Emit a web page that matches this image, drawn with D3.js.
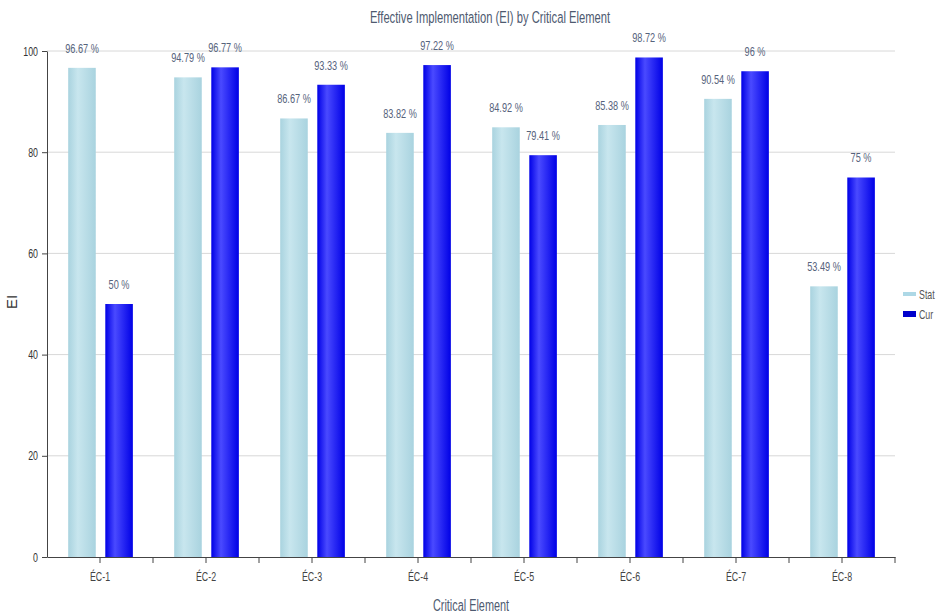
<!DOCTYPE html>
<html>
<head>
<meta charset="utf-8">
<script src="https://cdn.jsdelivr.net/npm/d3@7.9.0/dist/d3.min.js"></script>
<style>
  body { margin: 0; background: #fff; }
  text { font-family: "Liberation Sans", Arial, sans-serif; }
</style>
</head>
<body>
<svg id="chart" width="944" height="616"></svg>
<script>
const categories = ['ÉC-1', 'ÉC-2', 'ÉC-3', 'ÉC-4', 'ÉC-5', 'ÉC-6', 'ÉC-7', 'ÉC-8'];
const statValues = [96.67, 94.79, 86.67, 83.82, 84.92, 85.38, 90.54, 53.49];
const curValues = [50, 96.77, 93.33, 97.22, 79.41, 98.72, 96, 75];
const seriesNames = ['Stat', 'Cur'];
const yTicks = [0, 20, 40, 60, 80, 100];

const margin = { top: 51, right: 49, bottom: 59, left: 47 };
const width = 944 - margin.left - margin.right;
const height = 616 - margin.top - margin.bottom;
const squash = 0.68; // the original text is horizontally condensed

let svg = d3.select('#chart');

// squeeze text horizontally around its anchor point
function narrow(sel) {
    sel.each(function () {
        let t = d3.select(this);
        let x = +t.attr('x') || 0;
        t.attr('x', x / squash).attr('transform', `scale(${squash},1)`);
    });
}

// gradients for the bar shading
let defs = svg.append('defs');
function addGradient(id, edge, light) {
    let g = defs.append('linearGradient').attr('id', id).attr('x1', '0%').attr('x2', '100%');
    g.append('stop').attr('offset', '0%').attr('stop-color', edge);
    g.append('stop').attr('offset', '35%').attr('stop-color', light);
    g.append('stop').attr('offset', '100%').attr('stop-color', edge);
}
addGradient('gradStat', '#a9d3df', '#c8e6ee');
addGradient('gradCur', '#0000e6', '#4a4aff');
const fills = ['url(#gradStat)', 'url(#gradCur)'];
const legendColors = ['#add8e6', '#0000cc'];

let g = svg.append('g').attr('transform', `translate(${margin.left},${margin.top})`);

let x = d3.scaleBand().domain(categories).range([0, width]);
let y = d3.scaleLinear().domain([0, 100]).range([height, 0]);

// gridlines
g.selectAll('.grid')
    .data(yTicks.slice(1))
    .join('line')
    .attr('x1', 0)
    .attr('x2', width)
    .attr('y1', d => y(d))
    .attr('y2', d => y(d))
    .attr('stroke', '#d8d8d8')
    .attr('stroke-width', 1);

// bars
const series = [statValues, curValues];
const barW = x.bandwidth() * 0.26;
const offsets = [x.bandwidth() * 0.2, x.bandwidth() * 0.2 + barW + x.bandwidth() * 0.09];

series.forEach((vals, si) => {
    g.selectAll('.bar' + si)
        .data(vals)
        .join('rect')
        .attr('x', (d, i) => x(categories[i]) + offsets[si])
        .attr('y', d => y(d))
        .attr('width', barW)
        .attr('height', d => height - y(d))
        .attr('fill', fills[si]);

    g.selectAll('.lbl' + si)
        .data(vals)
        .join('text')
        .attr('x', (d, i) => x(categories[i]) + offsets[si] + barW / 2)
        .attr('y', d => y(d) - 15)
        .attr('text-anchor', 'middle')
        .attr('font-size', 13.5)
        .attr('fill', '#56637c')
        .text(d => `${d} %`)
        .call(narrow);
});

// y axis
let yAxis = g.append('g')
    .call(d3.axisLeft(y).tickValues(yTicks).tickSize(5).tickPadding(4).tickSizeOuter(0));
yAxis.select('.domain').attr('stroke', '#444');
yAxis.selectAll('.tick line').attr('stroke', '#444');
yAxis.selectAll('.tick text').attr('font-size', 13).attr('fill', '#333').call(narrow);

// x axis: ticks at category centres and band edges
let xAxis = g.append('g').attr('transform', `translate(0,${height})`)
    .call(d3.axisBottom(x).tickSize(6).tickPadding(9).tickSizeOuter(0));
xAxis.select('.domain').attr('stroke', '#444');
xAxis.selectAll('.tick line').attr('stroke', '#444');
xAxis.selectAll('.tick text').attr('font-size', 13).attr('fill', '#444').call(narrow);
xAxis.selectAll('.edge')
    .data(d3.range(1, categories.length + 1))
    .join('line')
    .attr('x1', d => d * x.step())
    .attr('x2', d => d * x.step())
    .attr('y1', 0)
    .attr('y2', 6)
    .attr('stroke', '#444');

// title
svg.append('text')
    .attr('x', 490)
    .attr('y', 23)
    .attr('text-anchor', 'middle')
    .attr('font-size', 16.5)
    .attr('fill', '#4e5a70')
    .text('Effective Implementation (EI) by Critical Element')
    .call(narrow);

// axis titles
svg.append('text')
    .attr('x', 471)
    .attr('y', 611)
    .attr('text-anchor', 'middle')
    .attr('font-size', 16)
    .attr('fill', '#4e5a70')
    .text('Critical Element')
    .call(narrow);

svg.append('text')
    .attr('transform', `translate(17,${margin.top + height / 2 - 2}) rotate(-90)`)
    .attr('text-anchor', 'middle')
    .attr('font-size', 15)
    .attr('fill', '#333')
    .text('EI');

// legend
let legend = svg.append('g').attr('transform', 'translate(903,289)');
seriesNames.forEach((name, i) => {
    legend.append('rect')
        .attr('x', 0)
        .attr('y', i * 20 + 3 - i)
        .attr('width', 13)
        .attr('height', 4 + i * 2)
        .attr('fill', legendColors[i]);
    legend.append('text')
        .attr('x', 16)
        .attr('y', i * 20 + 10)
        .attr('font-size', 13)
        .attr('fill', '#555')
        .text(name)
        .call(narrow);
});
</script>
</body>
</html>
